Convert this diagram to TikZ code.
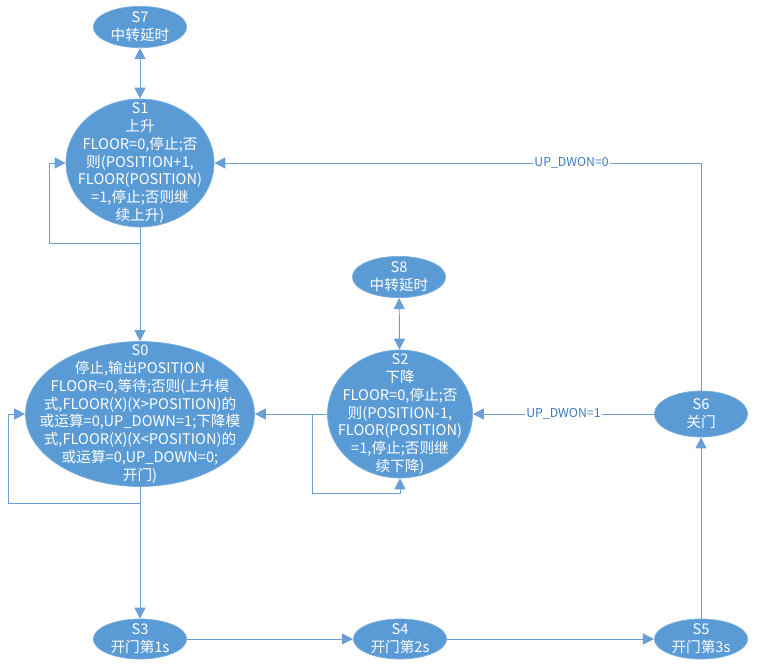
\documentclass[tikz,border=0pt]{standalone}
\usepackage{fontspec}
\setmainfont{Noto Sans CJK SC}
\usepackage{xcolor}
\usepackage{tikz}
\usetikzlibrary{arrows.meta, shapes.geometric}

\definecolor{stblue}{HTML}{5B9BD5}
\definecolor{lnblue}{HTML}{6A9FD6}
\definecolor{lbblue}{HTML}{3E7CBF}

\begin{document}
\begin{tikzpicture}[
      x=0.03cm, y=-0.03cm,
      state/.style={ellipse, fill=stblue, draw=stblue!80!white, line width=0.6pt, inner sep=0pt},
      small/.style={state, minimum width=2.8cm, minimum height=1.24cm},
      stext/.style={text=white, align=center, font=\fontsize{12.5}{15.2}\selectfont},
      arr/.style={-{Triangle[length=3.3mm, width=3.3mm]}, draw=lnblue, line width=0.8pt},
      dbl/.style={{Triangle[length=3.3mm, width=3.3mm]}-{Triangle[length=3.3mm, width=3.3mm]}, draw=lnblue, line width=0.8pt},
      lbl/.style={fill=white, text=lbblue, inner sep=1pt, font=\fontsize{10.5}{12}\selectfont}
    ]
    \useasboundingbox (0,0) rectangle (759,670);

    \node[small, label={[stext]center:{S7\\中转延时}}] (s7) at (140,27) {};
    \node[state, minimum width=4.44cm, minimum height=3.84cm,
      label={[stext]center:{S1\\上升\\FLOOR=0,停止;否\\则(POSITION+1,\\FLOOR(POSITION)\\=1,停止;否则继\\续上升)}}] (s1) at (140,163) {};
    \node[state, minimum width=6.87cm, minimum height=4.35cm,
      label={[stext]center:{S0\\停止,输出POSITION\\FLOOR=0,等待;否则(上升模\\式,FLOOR(X)(X>POSITION)的\\或运算=0,UP\_DOWN=1;下降模\\式,FLOOR(X)(X<POSITION)的\\或运算=0,UP\_DOWN=0;\\开门)}}] (s0) at (140,414) {};
    \node[small, label={[stext]center:{S8\\中转延时}}] (s8) at (399,277) {};
    \node[state, minimum width=4.35cm, minimum height=3.84cm,
      label={[stext]center:{S2\\下降\\FLOOR=0,停止;否\\则(POSITION-1,\\FLOOR(POSITION)\\=1,停止;否则继\\续下降)}}] (s2) at (400,414) {};
    \node[small, minimum height=1.38cm, label={[stext]center:{S6\\关门}}] (s6) at (701,414) {};
    \node[small, minimum height=1.2cm, label={[stext]center:{S3\\开门第1s}}] (s3) at (140,639) {};
    \node[small, minimum height=1.2cm, label={[stext]center:{S4\\开门第2s}}] (s4) at (400,639) {};
    \node[small, minimum height=1.2cm, label={[stext]center:{S5\\开门第3s}}] (s5) at (701,639) {};

    \coordinate (l1) at (49,243);
    \coordinate (l0) at (8,503);
    \coordinate (l2) at (312,493);

    \draw[dbl] (s7) -- (s1);
    \draw[arr] (s1.south) |- (l1) |- (s1.west);
    \draw[arr] (s1) -- (s0);
    \draw[arr] (s0.south) |- (l0) |- (s0.west);
    \draw[arr] (s0) -- (s3);
    \draw[arr] (s2) -- (s0);
    \draw[arr] (s2.west -| l2) -- (l2) -| (s2.south);
    \draw[dbl] (s8) -- (s2);
    \draw[arr] (s6) -- node[lbl] {UP\_DWON=1} (s2);
    \draw[arr] (s6.north) |- node[lbl, pos=0.633] {UP\_DWON=0} (s1.east);
    \draw[arr] (s3) -- (s4);
    \draw[arr] (s4) -- (s5);
    \draw[arr] (s5) -- (s6);
  \end{tikzpicture}
\end{document}
